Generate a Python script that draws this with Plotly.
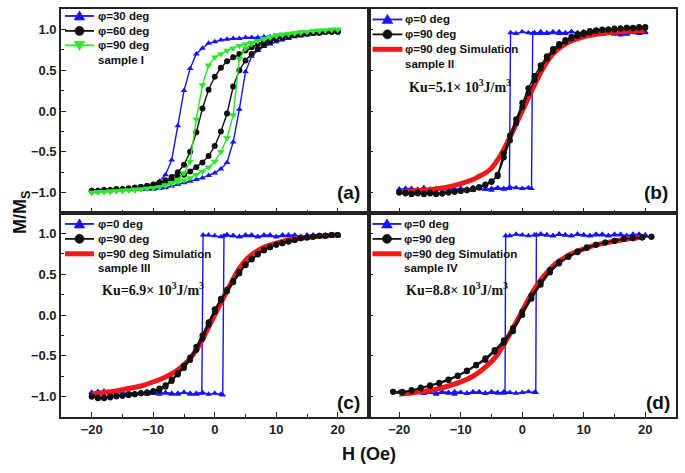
import plotly.graph_objects as go
from plotly.subplots import make_subplots

# ---------------- data ----------------
H41 = [-20, -19, -18, -17, -16, -15, -14, -13, -12, -11, -10, -9, -8, -7, -6, -5, -4, -3, -2, -1,
       0, 1, 2, 3, 4, 5, 6, 7, 8, 9, 10, 11, 12, 13, 14, 15, 16, 17, 18, 19, 20]
H41_down = H41[::-1]

# panel (a), sample I  (down: H from 20 to -20, up: H from -20 to 20)
a_blue_down = [0.98, 0.97, 0.97, 0.96, 0.96, 0.95, 0.95, 0.93, 0.93, 0.92, 0.92, 0.91, 0.91, 0.90, 0.90,
               0.90, 0.89, 0.89, 0.88, 0.87, 0.85, 0.83, 0.77, 0.70, 0.52, 0.25, -0.18, -0.60, -0.78,
               -0.86, -0.90, -0.92, -0.93, -0.94, -0.95, -0.95, -0.96, -0.96, -0.96, -0.97, -0.97]
a_blue_up = [-0.97, -0.97, -0.97, -0.97, -0.96, -0.96, -0.96, -0.96, -0.96, -0.96, -0.96, -0.95, -0.94,
             -0.92, -0.90, -0.88, -0.86, -0.84, -0.82, -0.79, -0.76, -0.71, -0.63, -0.38, 0.02, 0.48,
             0.67, 0.74, 0.79, 0.82, 0.85, 0.87, 0.89, 0.91, 0.92, 0.93, 0.94, 0.95, 0.96, 0.97, 0.98]
a_black_down = [0.97, 0.97, 0.97, 0.96, 0.96, 0.95, 0.94, 0.93, 0.92, 0.90, 0.89, 0.87, 0.85, 0.82, 0.78,
                0.74, 0.70, 0.66, 0.61, 0.53, 0.42, 0.26, 0.03, -0.26, -0.50, -0.66, -0.75, -0.81, -0.85,
                -0.88, -0.90, -0.92, -0.93, -0.94, -0.95, -0.96, -0.96, -0.97, -0.97, -0.98, -0.98]
a_black_up = [-0.98, -0.98, -0.97, -0.97, -0.96, -0.96, -0.95, -0.94, -0.93, -0.92, -0.91, -0.89, -0.87,
              -0.84, -0.81, -0.78, -0.74, -0.69, -0.63, -0.55, -0.43, -0.25, -0.03, 0.30, 0.50, 0.62,
              0.70, 0.76, 0.81, 0.85, 0.88, 0.90, 0.92, 0.93, 0.94, 0.95, 0.96, 0.96, 0.97, 0.97, 0.97]
a_green_down = [1.0, 1.0, 0.99, 0.99, 0.98, 0.97, 0.96, 0.95, 0.94, 0.93, 0.92, 0.90, 0.88, 0.86, 0.84,
                0.82, 0.80, 0.77, 0.74, 0.70, 0.66, 0.56, 0.32, -0.10, -0.62, -0.76, -0.84, -0.88, -0.91,
                -0.93, -0.94, -0.95, -0.96, -0.97, -0.97, -0.98, -0.98, -0.99, -0.99, -1.0, -1.0]
a_green_up = [-1.0, -0.99, -0.99, -0.98, -0.98, -0.97, -0.97, -0.96, -0.96, -0.95, -0.94, -0.93, -0.91,
              -0.89, -0.87, -0.85, -0.82, -0.78, -0.74, -0.69, -0.62, -0.50, -0.33, -0.05, 0.64, 0.77,
              0.82, 0.86, 0.89, 0.91, 0.93, 0.94, 0.95, 0.96, 0.97, 0.97, 0.98, 0.98, 0.99, 1.0, 1.0]

# simulation field grid
H_sim = [-20, -18, -16, -14, -12, -10, -8, -7, -6, -5, -4, -3, -2, -1, 0, 1, 2, 3, 4, 5, 6, 7, 8,
         10, 12, 14, 16, 18, 20]

# panel (b), sample II
H_b_blue_down = [20, 19, 18, 17, 16, 15, 14, 13, 12, 11, 10, 9, 8, 7, 6, 5, 4, 3, 2, 1, 0, -1, -1.9,
                 -2.1, -3, -4, -5, -6, -7, -8, -9, -10, -11, -12, -13, -14, -15, -16, -17, -18, -19, -20]
b_blue_down = [0.97, 0.96, 0.97, 0.95, 0.96, 0.94, 0.95, 0.94, 0.96, 0.95, 0.97, 0.96, 0.97, 0.95, 0.97,
               0.96, 0.95, 0.97, 0.95, 0.96, 0.97, 0.95, 0.96, -0.95, -0.96, -0.95, -0.97, -0.96, -0.95,
               -0.97, -0.96, -0.95, -0.96, -0.94, -0.96, -0.95, -0.96, -0.94, -0.96, -0.95, -0.95, -0.96]
H_b_blue_up = [-20, -19, -18, -17, -16, -15, -14, -13, -12, -11, -10, -9, -8, -7, -6, -5, -4, -3, -2, -1,
               0, 1, 1.5, 1.7, 2, 3, 4, 5, 6, 7, 8, 9, 10, 11, 12, 13, 14, 15, 16, 17, 18, 19, 20]
b_blue_up = [-0.96, -0.95, -0.96, -0.97, -0.95, -0.96, -0.96, -0.95, -0.97, -0.96, -0.95, -0.96, -0.94,
             -0.95, -0.96, -0.95, -0.94, -0.95, -0.93, -0.94, -0.95, -0.94, -0.95, 0.95, 0.96, 0.95,
             0.96, 0.97, 0.95, 0.96, 0.97, 0.96, 0.95, 0.96, 0.95, 0.94, 0.96, 0.95, 0.93, 0.94, 0.96,
             0.95, 0.96]
b_black_down = [1.02, 1.03, 1.02, 1.02, 1.01, 1.01, 1.0, 1.0, 0.99, 0.98, 0.96, 0.94, 0.91, 0.87, 0.82,
                0.76, 0.67, 0.56, 0.43, 0.28, 0.10, -0.10, -0.30, -0.52, -0.78, -0.87, -0.91, -0.94,
                -0.96, -0.97, -0.98, -0.99, -1.0, -1.01, -1.01, -1.0, -1.01, -1.0, -1.01, -1.0, -1.0]
b_black_up = [-1.0, -1.01, -1.02, -1.01, -1.02, -1.01, -1.02, -1.01, -1.0, -0.99, -0.98, -0.97, -0.95,
              -0.93, -0.90, -0.86, -0.80, -0.57, -0.36, -0.15, 0.05, 0.22, 0.38, 0.52, 0.64, 0.73,
              0.80, 0.85, 0.89, 0.92, 0.94, 0.96, 0.98, 0.99, 1.0, 1.0, 1.01, 1.02, 1.01, 1.02, 1.03]
b_sim = [-0.985, -0.98, -0.97, -0.955, -0.93, -0.89, -0.84, -0.80, -0.76, -0.70, -0.60, -0.47, -0.32,
         -0.16, 0.0, 0.16, 0.32, 0.47, 0.60, 0.70, 0.77, 0.82, 0.86, 0.91, 0.94, 0.96, 0.97, 0.98, 0.985]

# panel (c), sample III
H_c_blue_down = [20, 19, 18, 17, 16, 15, 14, 13, 12, 11, 10, 9, 8, 7, 6, 5, 4, 3, 2, 1, 0, -1, -1.9,
                 -2.1, -3, -4, -5, -6, -7, -8, -9, -10, -11, -12, -13, -14, -15, -16, -17, -18, -19, -20]
c_blue_down = [0.98, 0.97, 0.98, 0.96, 0.97, 0.98, 0.96, 0.97, 0.98, 0.97, 0.96, 0.98, 0.97, 0.96, 0.98,
               0.97, 0.96, 0.97, 0.98, 0.96, 0.97, 0.98, 0.98, -0.96, -0.97, -0.96, -0.95, -0.97, -0.96,
               -0.95, -0.97, -0.96, -0.95, -0.96, -0.97, -0.95, -0.96, -0.94, -0.96, -0.95, -0.94, -0.95]
H_c_blue_up = [-20, -19, -18, -17, -16, -15, -14, -13, -12, -11, -10, -9, -8, -7, -6, -5, -4, -3, -2, -1,
               0, 1, 1.3, 1.5, 2, 3, 4, 5, 6, 7, 8, 9, 10, 11, 12, 13, 14, 15, 16, 17, 18, 19, 20]
c_blue_up = [-0.95, -0.94, -0.93, -0.95, -0.94, -0.96, -0.95, -0.96, -0.95, -0.97, -0.96, -0.95, -0.96,
             -0.97, -0.96, -0.95, -0.97, -0.96, -0.95, -0.97, -0.96, -0.97, -0.98, 0.97, 0.98, 0.97,
             0.96, 0.98, 0.97, 0.96, 0.98, 0.97, 0.96, 0.98, 0.97, 0.98, 0.96, 0.97, 0.98, 0.97, 0.96,
             0.98, 0.97]
c_black_down = [0.98, 0.98, 0.97, 0.97, 0.96, 0.95, 0.94, 0.92, 0.90, 0.88, 0.86, 0.83, 0.80, 0.75, 0.69,
                0.62, 0.53, 0.42, 0.31, 0.20, 0.07, -0.09, -0.25, -0.39, -0.52, -0.62, -0.71, -0.79,
                -0.86, -0.90, -0.93, -0.95, -0.96, -0.97, -0.98, -0.99, -0.99, -1.0, -1.01, -1.02, -1.0]
c_black_up = [-1.0, -1.01, -1.02, -1.01, -1.0, -0.99, -0.98, -0.97, -0.96, -0.95, -0.94, -0.92, -0.88,
              -0.81, -0.73, -0.65, -0.55, -0.43, -0.29, -0.12, 0.04, 0.18, 0.29, 0.40, 0.51, 0.61,
              0.68, 0.74, 0.79, 0.83, 0.86, 0.88, 0.90, 0.92, 0.94, 0.95, 0.96, 0.97, 0.97, 0.98, 0.98]
c_sim = [-0.97, -0.95, -0.93, -0.90, -0.87, -0.82, -0.76, -0.72, -0.67, -0.61, -0.53, -0.43, -0.30,
         -0.15, 0.0, 0.15, 0.30, 0.44, 0.57, 0.67, 0.74, 0.79, 0.83, 0.88, 0.92, 0.94, 0.96, 0.97, 0.985]

# panel (d), sample IV
H_d_blue_down = [20, 19, 18, 17, 16, 15, 14, 13, 12, 11, 10, 9, 8, 7, 6, 5, 4, 3, 2, 1, 0, -1, -2, -2.7,
                 -2.8, -3, -4, -5, -6, -7, -8, -9, -10, -11, -12, -13, -14, -15, -16, -17, -18, -19, -20]
d_blue_down = [0.98, 0.99, 0.98, 0.97, 0.99, 0.98, 0.97, 0.99, 0.98, 0.97, 0.98, 0.99, 0.97, 0.98, 0.99,
               0.97, 0.98, 0.99, 0.98, 0.97, 0.98, 0.99, 0.97, 0.97, -0.95, -0.96, -0.95, -0.94, -0.96,
               -0.95, -0.94, -0.96, -0.95, -0.97, -0.95, -0.94, -0.96, -0.95, -0.96, -0.94, -0.95, -0.96,
               -0.95]
H_d_blue_up = [-20, -19, -18, -17, -16, -15, -14, -13, -12, -11, -10, -9, -8, -7, -6, -5, -4, -3, -2, -1,
               0, 1, 2, 2.2, 2.3, 3, 4, 5, 6, 7, 8, 9, 10, 11, 12, 13, 14, 15, 16, 17, 18, 19, 20]
d_blue_up = [-0.95, -0.96, -0.95, -0.94, -0.96, -0.95, -0.97, -0.95, -0.96, -0.94, -0.95, -0.96, -0.95,
             -0.94, -0.96, -0.95, -0.96, -0.94, -0.95, -0.96, -0.95, -0.94, -0.95, -0.95, 0.98, 0.99,
             0.98, 0.97, 0.99, 0.98, 0.97, 0.99, 0.98, 0.97, 0.99, 0.98, 0.97, 0.99, 0.98, 0.97, 0.99,
             0.98, 0.98]
H_d_black = [-21, -19.5, -18, -16.5, -15, -13.5, -12, -10.5, -9, -7.5, -6, -4.5, -3, -1.5, 0, 1.5, 3,
             4.5, 6, 7.5, 9, 10.5, 12, 13.5, 15, 16.5, 18, 19.5, 21]
d_black_up = [-0.94, -0.95, -0.93, -0.90, -0.87, -0.84, -0.80, -0.75, -0.69, -0.62, -0.55, -0.45, -0.34,
              -0.20, 0.0, 0.20, 0.37, 0.52, 0.63, 0.71, 0.77, 0.82, 0.86, 0.89, 0.91, 0.93, 0.94, 0.95,
              0.96]
d_black_down = [-0.94, -0.94, -0.92, -0.89, -0.86, -0.83, -0.79, -0.74, -0.68, -0.61, -0.53, -0.43, -0.31,
                -0.16, 0.04, 0.24, 0.40, 0.55, 0.65, 0.72, 0.78, 0.83, 0.86, 0.89, 0.91, 0.93, 0.94,
                0.95, 0.96]
d_sim = [-0.97, -0.955, -0.935, -0.91, -0.87, -0.82, -0.75, -0.70, -0.64, -0.57, -0.48, -0.36, -0.23,
         -0.09, 0.05, 0.19, 0.32, 0.43, 0.52, 0.60, 0.66, 0.71, 0.75, 0.81, 0.86, 0.89, 0.92, 0.94, 0.96]

legend_labels = [["φ=30 deg", "φ=60 deg", "φ=90 deg", "sample I"],
                 ["φ=0 deg", "φ=90 deg", "φ=90 deg Simulation", "sample II"],
                 ["φ=0 deg", "φ=90 deg", "φ=90 deg Simulation", "sample III"],
                 ["φ=0 deg", "φ=90 deg", "φ=90 deg Simulation", "sample IV"]]
ku_texts = ["Ku=5.1× 10<sup>3</sup>J/m<sup>3</sup>", "Ku=6.9× 10<sup>3</sup>J/m<sup>3</sup>",
            "Ku=8.8× 10<sup>3</sup>J/m<sup>3</sup>"]
panel_labels = ["(a)", "(b)", "(c)", "(d)"]

# ---------------- styling ----------------
BLUE = "#1414f5"
GREEN = "#2ee62e"
RED = "#f01818"
BLACK = "#111111"
FONT = "Arial, Liberation Sans, sans-serif"
SERIF = "Times New Roman, Liberation Serif, serif"

W, H = 685, 473
ML, MR, MT, MB = 61, 8, 7, 56
PW, PH = W - ML - MR, H - MT - MB


def fx(p):  # page pixel x -> paper
    return (p - ML) / PW


def fy(p):  # page pixel y -> paper
    return (H - MB - p) / PH


fig = make_subplots(rows=2, cols=2, horizontal_spacing=0, vertical_spacing=0)
cells = [(1, 1), (1, 2), (2, 1), (2, 2)]


def add_loop(cell, name, xd, yd, xu, yu, color, symbol, size):
    r, c = cell
    fig.add_trace(go.Scatter(x=list(xd) + list(xu), y=list(yd) + list(yu), mode="lines+markers",
                             name=name, showlegend=False,
                             line=dict(color=color, width=1.4),
                             marker=dict(color=color, symbol=symbol, size=size, line=dict(width=0))),
                  row=r, col=c)


def add_sim(cell, y):
    r, c = cell
    fig.add_trace(go.Scatter(x=H_sim, y=y, mode="lines", name="φ=90 deg Simulation", showlegend=False,
                             line=dict(color=RED, width=5, shape="spline")), row=r, col=c)


# (a)
add_loop(cells[0], "φ=30 deg", H41_down, a_blue_down, H41, a_blue_up, BLUE, "triangle-up", 6)
add_loop(cells[0], "φ=60 deg", H41_down, a_black_down, H41, a_black_up, BLACK, "circle", 6)
add_loop(cells[0], "φ=90 deg", H41_down, a_green_down, H41, a_green_up, GREEN, "triangle-down", 7)
# (b)
add_loop(cells[1], "φ=0 deg", H_b_blue_down, b_blue_down, H_b_blue_up, b_blue_up, BLUE, "triangle-up", 6)
add_sim(cells[1], b_sim)
add_loop(cells[1], "φ=90 deg", H41_down, b_black_down, H41, b_black_up, BLACK, "circle", 6)
# (c)
add_loop(cells[2], "φ=0 deg", H_c_blue_down, c_blue_down, H_c_blue_up, c_blue_up, BLUE, "triangle-up", 6)
add_sim(cells[2], c_sim)
add_loop(cells[2], "φ=90 deg", H41_down, c_black_down, H41, c_black_up, BLACK, "circle", 6)
# (d)
add_loop(cells[3], "φ=0 deg", H_d_blue_down, d_blue_down, H_d_blue_up, d_blue_up, BLUE, "triangle-up", 6)
add_sim(cells[3], d_sim)
add_loop(cells[3], "φ=90 deg", H_d_black[::-1], d_black_down[::-1], H_d_black, d_black_up, BLACK, "circle", 6)

tickfont = dict(family=FONT, size=13, color="#222222", weight="bold")
xax = dict(range=[-25, 25], tick0=0, dtick=10, ticks="inside", ticklen=5, tickwidth=1.3, tickcolor="#222",
           showline=True, linecolor="#222", linewidth=1.6, mirror=True, showgrid=False, zeroline=False,
           minor=dict(tick0=0, dtick=5, ticks="inside", ticklen=3, tickwidth=1.1, tickcolor="#222"),
           tickfont=tickfont)
yax = dict(range=[-1.25, 1.25], tick0=0, dtick=0.5, tickformat=".1f", ticks="inside", ticklen=5,
           tickwidth=1.3, tickcolor="#222", showline=True, linecolor="#222", linewidth=1.6, mirror=True,
           showgrid=False, zeroline=False,
           minor=dict(tick0=0, dtick=0.25, ticks="inside", ticklen=3, tickwidth=1.1, tickcolor="#222"),
           tickfont=tickfont)

for (r, c) in cells:
    fig.update_xaxes(xax, row=r, col=c, showticklabels=(r == 2))
    fig.update_yaxes(yax, row=r, col=c, showticklabels=(c == 1))

# ---------------- hand-built legends (pixel layout) ----------------
shapes = []
annotations = []
legend_styles = [[(BLUE, "tri_up"), (BLACK, "circle"), (GREEN, "tri_down"), None],
                 [(BLUE, "tri_up"), (BLACK, "circle"), (RED, "thick"), None],
                 [(BLUE, "tri_up"), (BLACK, "circle"), (RED, "thick"), None],
                 [(BLUE, "tri_up"), (BLACK, "circle"), (RED, "thick"), None]]
# (line start x, line end x, text x, row y's) in page pixels
legend_geom = [(65, 94, 96, [14, 29, 43.5, 58]),
               (373, 403, 404, [17.5, 32.5, 47.5, 62]),
               (65, 94, 96, [223, 238, 253, 267.5]),
               (373, 402, 403, [223, 238, 253, 267.5])]


def tri_path(cx, cy, up=True, s=5.2):
    if up:
        pts = [(cx, cy - s), (cx - s * 1.05, cy + s * 0.8), (cx + s * 1.05, cy + s * 0.8)]
    else:
        pts = [(cx, cy + s), (cx - s * 1.05, cy - s * 0.8), (cx + s * 1.05, cy - s * 0.8)]
    return "M " + " L ".join(f"{fx(px):.5f},{fy(py):.5f}" for px, py in pts) + " Z"


for labels, styles, (x0, x1, xt, rows) in zip(legend_labels, legend_styles, legend_geom):
    for lab, sty, yrow in zip(labels, styles, rows):
        annotations.append(dict(text=lab, x=fx(xt), y=fy(yrow), xref="paper", yref="paper",
                                xanchor="left", yanchor="middle", showarrow=False,
                                font=dict(family=FONT, size=11.5, color="#111", weight="bold")))
        if sty is None:
            continue
        color, kind = sty
        lw = 5 if kind == "thick" else 1.8
        shapes.append(dict(type="line", xref="paper", yref="paper", x0=fx(x0), x1=fx(x1),
                           y0=fy(yrow), y1=fy(yrow), line=dict(color=color, width=lw)))
        cx = (x0 + x1) / 2
        if kind == "circle":
            rr = 4.6
            shapes.append(dict(type="circle", xref="paper", yref="paper", x0=fx(cx - rr), x1=fx(cx + rr),
                               y0=fy(yrow + rr), y1=fy(yrow - rr), fillcolor=color,
                               line=dict(color=color, width=0.5)))
        elif kind in ("tri_up", "tri_down"):
            shapes.append(dict(type="path", xref="paper", yref="paper",
                               path=tri_path(cx, yrow, up=(kind == "tri_up")), fillcolor=color,
                               line=dict(color=color, width=0.5)))

# Ku annotations for (b), (c), (d)
ku_pos = [(408, 84), (100, 288.5), (405, 288.5)]
for t, (px, py) in zip(ku_texts, ku_pos):
    annotations.append(dict(text=t, x=fx(px), y=fy(py), xref="paper", yref="paper", xanchor="left",
                            yanchor="middle", showarrow=False,
                            font=dict(family=SERIF, size=14, color="#111", weight="bold")))
# panel labels
lab_pos = [(362, 191), (671, 191), (362, 402), (673, 402)]
for t, (px, py) in zip(panel_labels, lab_pos):
    annotations.append(dict(text=t, x=fx(px), y=fy(py), xref="paper", yref="paper", xanchor="right",
                            yanchor="middle", showarrow=False,
                            font=dict(family=FONT, size=19, color="#111", weight="bold")))
# axis titles
annotations.append(dict(text="H (Oe)", x=fx(370), y=fy(454), xref="paper", yref="paper", xanchor="center",
                        yanchor="middle", showarrow=False,
                        font=dict(family=FONT, size=18, color="#111", weight="bold")))
annotations.append(dict(text="M/M<sub>S</sub>", x=fx(21), y=fy(212), xref="paper", yref="paper",
                        xanchor="center", yanchor="middle", textangle=-90, showarrow=False,
                        font=dict(family=FONT, size=18, color="#111", weight="bold")))

fig.update_layout(width=W, height=H, margin=dict(l=ML, r=MR, t=MT, b=MB),
                  paper_bgcolor="white", plot_bgcolor="white", showlegend=False,
                  annotations=annotations, shapes=shapes)

fig.write_html("out.html", config={"displayModeBar": False},
               post_script="document.body.style.margin='0px';")
